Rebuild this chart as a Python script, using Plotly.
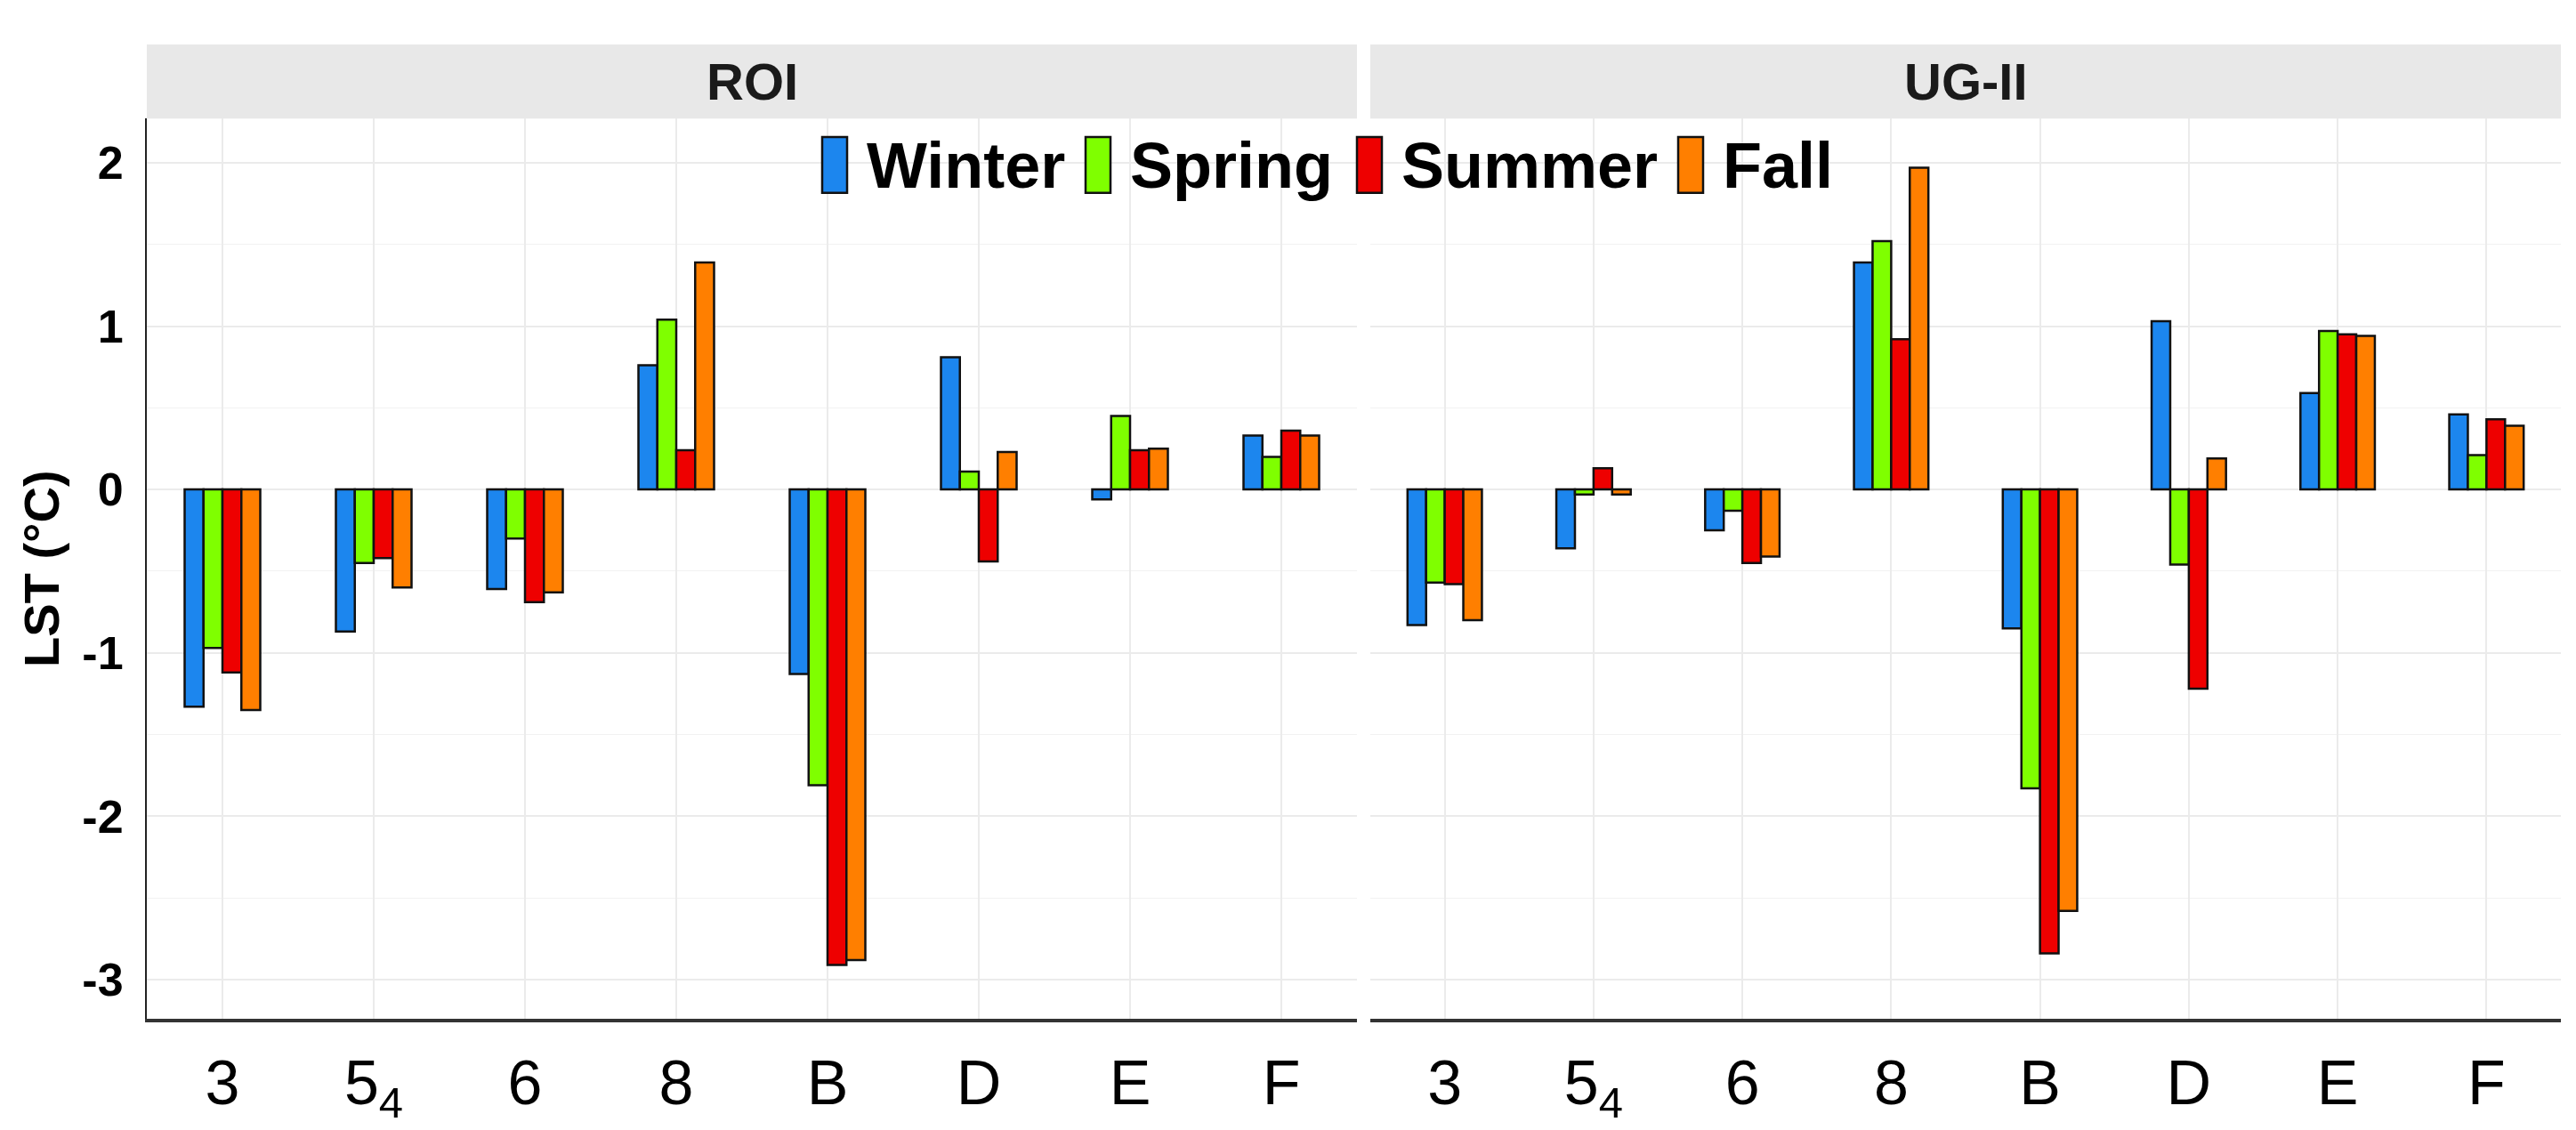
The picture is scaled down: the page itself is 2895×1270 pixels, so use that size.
import plotly.graph_objects as go

# categories and season series (LST difference, degC)
categories = ["3", "5<sub>4</sub>", "6", "8", "B", "D", "E", "F"]
seasons = ["Winter", "Spring", "Summer", "Fall"]
panels = ["ROI", "UG-II"]

roi_winter = [-1.33, -0.87, -0.61, 0.76, -1.13, 0.81, -0.06, 0.33]
roi_spring = [-0.97, -0.45, -0.30, 1.04, -1.81, 0.11, 0.45, 0.20]
roi_summer = [-1.12, -0.42, -0.69, 0.24, -2.91, -0.44, 0.24, 0.36]
roi_fall = [-1.35, -0.60, -0.63, 1.39, -2.88, 0.23, 0.25, 0.33]

ug_winter = [-0.83, -0.36, -0.25, 1.39, -0.85, 1.03, 0.59, 0.46]
ug_spring = [-0.57, -0.03, -0.13, 1.52, -1.83, -0.46, 0.97, 0.21]
ug_summer = [-0.58, 0.13, -0.45, 0.92, -2.84, -1.22, 0.95, 0.43]
ug_fall = [-0.80, -0.03, -0.41, 1.97, -2.58, 0.19, 0.94, 0.39]

y_ticks = [-3, -2, -1, 0, 1, 2]
y_ticktext = ["-3", "-2", "-1", "0", "1", "2"]

colors = ["#1C86EE", "#7FFF00", "#EE0000", "#FF7F00"]

W, H = 2895, 1270
ML, MR, MT, MB = 157, 25, 42, 111
plot_w = W - ML - MR
plot_h = H - MT - MB


def px2x(px):
    return (px - ML) / plot_w


def px2y(py):
    return (H - MB - py) / plot_h


panel_top = px2y(127)
dom1 = [0, px2x(1517)]
dom2 = [px2x(1532), 1]

fig = go.Figure()
series = {
    "x": [roi_winter, roi_spring, roi_summer, roi_fall],
    "x2": [ug_winter, ug_spring, ug_summer, ug_fall],
}
for xa, vals in series.items():
    for name, v, c in zip(seasons, vals, colors):
        fig.add_trace(go.Bar(x=categories, y=v, name=name, xaxis=xa, yaxis="y",
                             marker=dict(color=c, line=dict(color="#111111", width=2.5)),
                             showlegend=False))

grid = "#EBEBEB"
xcommon = dict(type="category", range=[-0.5, 7.5], showgrid=True, gridcolor=grid, gridwidth=2,
               showline=True, linecolor="#333333", linewidth=4, ticks="", ticklabelstandoff=8,
               tickfont=dict(family="Liberation Sans Narrow, Liberation Sans, Arial", size=70, color="black"),
               zeroline=False, categoryorder="array", categoryarray=categories)

fig.update_layout(
    width=W, height=H,
    margin=dict(l=ML, r=MR, t=MT, b=MB),
    plot_bgcolor="white", paper_bgcolor="white",
    barmode="group", bargap=0.5, bargroupgap=0,
    xaxis=dict(domain=dom1, anchor="y", **xcommon),
    xaxis2=dict(domain=dom2, anchor="y", **xcommon),
    yaxis=dict(domain=[0, panel_top], range=[-3.24, 2.27], tickvals=y_ticks, ticktext=y_ticktext,
               showgrid=True, gridcolor=grid, gridwidth=2, zeroline=False,
               minor=dict(dtick=0.5, tick0=0, showgrid=True, gridcolor="#F2F2F2", gridwidth=1),
               showline=True, linecolor="#222222", linewidth=2, ticks="", ticklabelstandoff=14,
               tickfont=dict(family="Liberation Sans, Arial", size=52, color="black", weight="bold"),
               title=dict(text="LST (°C)", standoff=8,
                          font=dict(family="Liberation Sans, Arial", size=56, color="black", weight="bold"))),
    showlegend=False,
)

# facet strips
shapes = []
annotations = []
for dom, label in zip([dom1, dom2], panels):
    shapes.append(dict(type="rect", xref="paper", yref="paper", x0=dom[0], x1=dom[1],
                       y0=panel_top, y1=1, fillcolor="#E8E8E8", line=dict(width=0), layer="below"))
    annotations.append(dict(xref="paper", yref="paper", x=(dom[0] + dom[1]) / 2, y=(panel_top + 1) / 2,
                            text=label, showarrow=False, xanchor="center", yanchor="middle",
                            font=dict(family="Liberation Sans, Arial", size=58, color="#1A1A1A", weight="bold")))

# legend drawn inside the panels, as in the original
key_left = [916, 1212, 1517, 1878]
for kx, name, c in zip(key_left, seasons, colors):
    shapes.append(dict(type="rect", xref="paper", yref="paper", x0=px2x(kx), x1=px2x(kx + 28),
                       y0=px2y(212), y1=px2y(148), fillcolor=c, line=dict(color="#111111", width=2.5)))
    annotations.append(dict(xref="paper", yref="paper", x=px2x(kx + 48), y=px2y(181), text=name,
                            showarrow=False, xanchor="left", yanchor="middle",
                            font=dict(family="Liberation Sans, Arial", size=72, color="black", weight="bold")))

fig.update_layout(shapes=shapes, annotations=annotations)

fig.write_html("out.html")
